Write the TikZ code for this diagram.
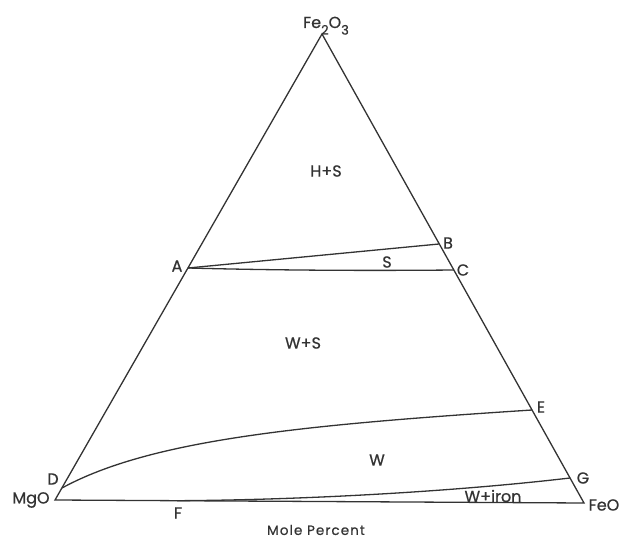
\documentclass[tikz,border=0pt]{standalone}
\usepackage{fontspec}
\setmainfont{Poppins}[FakeBold=0.6]
\newcommand{\sbs}[1]{\raisebox{-0.75ex}{\fontsize{13}{14}\selectfont #1}}
\begin{document}
\begin{tikzpicture}[x=1pt,y=-1pt,
  edge/.style={line width=1.3pt, draw=black!80, line join=miter},
  lbl/.style={font=\fontsize{16}{18}\selectfont, text=black!80, inner sep=0pt}]
\useasboundingbox[fill=white] (0,0) rectangle (621,540);
% vertices and points
\coordinate (top) at (322,34);
\coordinate (mgo) at (55,500);
\coordinate (feo) at (584,503);
\coordinate (A) at (188,268);
\coordinate (B) at (439,244);
\coordinate (C) at (454,270);
\coordinate (D) at (62,488);
\coordinate (E) at (532,410);
\coordinate (F) at (177,500.7);
\coordinate (G) at (570,478);
% triangle
\draw[edge] (top) -- (mgo) -- (feo) -- cycle;
% boundaries
\draw[edge] (A) -- (B);
\draw[edge] (A) .. controls (300,271) and (400,270.5) .. (C);
\draw[edge] (D) .. controls (150,440) and (300,425) .. (E);
\draw[edge] (G) .. controls (450,492) and (300,500) .. (F);
% vertex labels
\node[lbl, anchor=base] (lfe2o3) at (326,28) {Fe\sbs{2}O\sbs{3}};
\node[lbl] (lmgo) at (31,500) {MgO};
\node[lbl] (lfeo) at (604,505) {FeO};
% point labels
\node[lbl] (lA) at (177,266) {A};
\node[lbl] (lB) at (448,243) {B};
\node[lbl] (lC) at (463,270) {C};
\node[lbl] (lD) at (53,479) {D};
\node[lbl] (lE) at (541,407) {E};
\node[lbl] (lF) at (178,513) {F};
\node[lbl] (lG) at (583,478) {G};
% field labels
\node[lbl] (lHS) at (326,171) {H+S};
\node[lbl] (lS) at (387,262) {S};
\node[lbl] (lWS) at (303,343) {W+S};
\node[lbl] (lW) at (377,460) {W};
\node[lbl] (lWi) at (493,496) {W+iron};
\node[lbl, font=\fontsize{13.5}{15}\selectfont\addfontfeature{LetterSpace=8}] (lmp) at (316,530) {Mole Percent};
\end{tikzpicture}
\end{document}
